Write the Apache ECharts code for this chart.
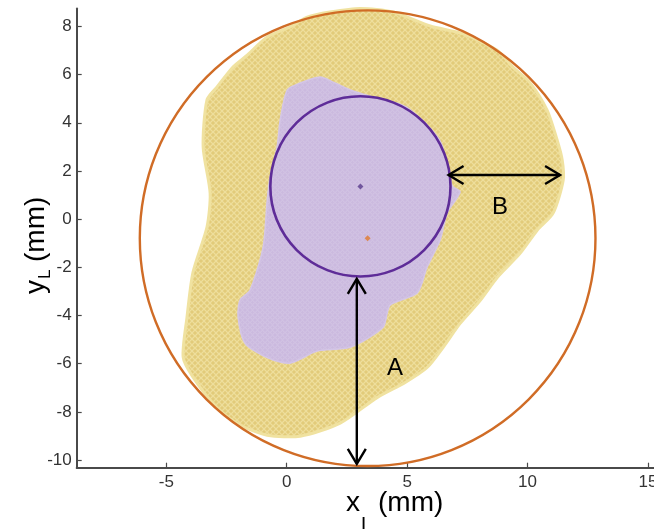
<!DOCTYPE html>
<html>
<head>
<meta charset="utf-8">
<script src="https://cdn.jsdelivr.net/npm/echarts@6/dist/echarts.min.js"></script>
<style>
  html, body { margin: 0; padding: 0; background: #fff; }
  #chart { width: 654px; height: 529px; }
</style>
</head>
<body>
<div id="chart"></div>
<script>
// Axis ticks (mm)
const xTicks = [-5, 0, 5, 10, 15];
const yTicks = [-10, -8, -6, -4, -2, 0, 2, 4, 6, 8];

// Outer cloud boundary (yellow), clockwise from the top
const cloudX = [3.05, 4.42, 5.96, 7.33, 8.72, 9.39, 10.11, 10.81, 11.23, 11.44, 11.48, 11.06, 10.40, 9.69, 8.74, 8.03, 7.20, 6.49, 5.83, 4.92, 3.75, 2.22, 0.56, -0.81, -1.94, -2.89, -3.89, -4.30, -4.14, -3.89, -3.31, -3.18, -3.47, -3.31, -2.89, -2.23, -1.64, -0.81, 0.14, 0.85, 1.80];
const cloudY = [8.75, 8.60, 8.02, 7.69, 7.02, 6.31, 5.65, 4.53, 3.28, 2.45, 1.62, 0.25, -0.46, -1.42, -2.42, -3.38, -4.33, -5.33, -6.16, -6.78, -7.41, -8.47, -9.01, -8.97, -8.55, -7.84, -6.56, -5.73, -4.07, -2.20, -0.33, 1.08, 3.00, 4.95, 5.49, 6.32, 6.81, 7.56, 7.98, 8.39, 8.60];

// Inner core boundary (lavender), clockwise from the top-left
const coreX = [0.02, 0.56, 1.39, 1.93, 2.76, 3.59, 4.96, 6.37, 6.87, 7.20, 6.66, 6.37, 5.83, 5.42, 4.29, 4.00, 2.63, 1.26, 0.14, -0.77, -1.73, -2.02, -1.94, -1.52, -0.98, -0.81, -0.69, -0.40, -0.27];
const coreY = [5.36, 5.65, 5.90, 5.69, 5.32, 5.07, 4.66, 3.24, 1.38, 1.13, 0.25, -0.87, -1.99, -3.07, -3.57, -4.49, -5.32, -5.48, -5.98, -5.77, -5.15, -4.07, -3.36, -2.94, -1.16, 0.79, 1.75, 2.99, 4.12];

// Fitted circles: [centre x, centre y, radius]
const outerCircle = [3.36, -0.79, 9.46];
const innerCircle = [3.06, 1.36, 3.74];

// Double-headed distance arrows: [x1, y1, x2, y2]
const arrowA = [2.91, -2.48, 2.91, -10.16];
const arrowB = [6.72, 1.83, 11.35, 1.83];

// Arrow captions
const captionText = ['A', 'B'];
const captionX = [4.50, 8.86];
const captionY = [-6.20, 0.49];

// Texture tiles that imitate densely packed markers
function makeTile(size, base, ring, r, lw) {
  const c = document.createElement('canvas');
  c.width = size; c.height = size;
  const g = c.getContext('2d');
  g.fillStyle = base;
  g.fillRect(0, 0, size, size);
  g.strokeStyle = ring;
  g.lineWidth = lw;
  g.beginPath();
  g.arc(size / 2, size / 2, r, 0, Math.PI * 2);
  g.stroke();
  return c;
}
const yellowFill = { image: makeTile(6, '#E2CB7A', '#F2E5A8', 2.4, 1), repeat: 'repeat' };
const lavenderFill = { image: makeTile(5, '#CBB9DF', '#D6C9E6', 1.8, 0.8), repeat: 'repeat' };

function regionSeries(xs, ys, fill, edge, edgeWidth) {
  return {
    type: 'custom',
    coordinateSystem: 'cartesian2d',
    clip: false,
    silent: true,
    data: [[xs[0], ys[0]]],
    renderItem: function (params, api) {
      const pts = xs.map(function (x, i) { return api.coord([x, ys[i]]); });
      return {
        type: 'polygon',
        shape: { points: pts, smooth: 0.25 },
        style: { fill: fill, stroke: edge, lineWidth: edgeWidth, lineJoin: 'round' }
      };
    }
  };
}

function circleSeries(circ, color, width) {
  return {
    type: 'custom',
    coordinateSystem: 'cartesian2d',
    clip: false,
    silent: true,
    data: [circ],
    renderItem: function (params, api) {
      const c = api.coord([api.value(0), api.value(1)]);
      const s = api.size([api.value(2), api.value(2)]);
      const rx = s[0], ry = s[1];
      const d = 'M' + (c[0] - rx) + ' ' + c[1] +
        ' A' + rx + ' ' + ry + ' 0 1 0 ' + (c[0] + rx) + ' ' + c[1] +
        ' A' + rx + ' ' + ry + ' 0 1 0 ' + (c[0] - rx) + ' ' + c[1] + ' Z';
      return {
        type: 'path',
        shape: { pathData: d },
        style: { fill: 'none', stroke: color, lineWidth: width }
      };
    }
  };
}

function arrowSeries(arrows) {
  return {
    type: 'custom',
    coordinateSystem: 'cartesian2d',
    clip: false,
    silent: true,
    data: arrows,
    renderItem: function (params, api) {
      const p1 = api.coord([api.value(0), api.value(1)]);
      const p2 = api.coord([api.value(2), api.value(3)]);
      const dx = p2[0] - p1[0], dy = p2[1] - p1[1];
      const len = Math.sqrt(dx * dx + dy * dy);
      const ux = dx / len, uy = dy / len;
      const nx = -uy, ny = ux;
      const back = 15, half = 9;
      const head = function (tip, dir) {
        return [
          [tip[0] + dir * ux * back + nx * half, tip[1] + dir * uy * back + ny * half],
          tip,
          [tip[0] + dir * ux * back - nx * half, tip[1] + dir * uy * back - ny * half]
        ];
      };
      const st = { stroke: '#000', fill: 'none', lineWidth: 2.4 };
      return {
        type: 'group',
        children: [
          { type: 'line', shape: { x1: p1[0], y1: p1[1], x2: p2[0], y2: p2[1] }, style: st },
          { type: 'polyline', shape: { points: head(p1, 1) }, style: st },
          { type: 'polyline', shape: { points: head(p2, -1) }, style: st }
        ]
      };
    }
  };
}

const captionData = captionText.map(function (t, i) { return [captionX[i], captionY[i], t]; });

const axisFont = 'Liberation Sans, Arial, sans-serif';

const option = {
  animation: false,
  backgroundColor: '#fff',
  grid: { left: 76.7, right: 0, top: 8.4, bottom: 61.3, outerBoundsMode: 'none', containLabel: false },
  xAxis: {
    type: 'value',
    min: -8.72,
    max: 15.25,
    splitLine: { show: false },
    axisLine: { show: true, onZero: false, lineStyle: { color: '#4a4a4a', width: 2 } },
    axisTick: { show: true, inside: true, length: 5, customValues: xTicks, lineStyle: { color: '#4a4a4a', width: 1.2 } },
    axisLabel: { customValues: xTicks, fontSize: 17, fontFamily: axisFont, color: '#333', margin: 6 }
  },
  yAxis: {
    type: 'value',
    min: -10.32,
    max: 8.75,
    splitLine: { show: false },
    axisLine: { show: true, onZero: false, lineStyle: { color: '#4a4a4a', width: 2 } },
    axisTick: { show: true, inside: true, length: 5, customValues: yTicks, lineStyle: { color: '#4a4a4a', width: 1.2 } },
    axisLabel: { customValues: yTicks, fontSize: 17, fontFamily: axisFont, color: '#333', margin: 5 }
  },
  graphic: [
    {
      type: 'group', x: 346, y: 503, silent: true,
      children: [
        { type: 'text', x: 0, y: 0, style: { text: 'x', font: '28px ' + axisFont, fill: '#000', verticalAlign: 'middle' } },
        { type: 'text', x: 15, y: 22, style: { text: 'L', font: '20px ' + axisFont, fill: '#000', verticalAlign: 'middle' } },
        { type: 'text', x: 32, y: 0, style: { text: '(mm)', font: '28px ' + axisFont, fill: '#000', verticalAlign: 'middle' } }
      ]
    },
    {
      type: 'group', x: 36, y: 294, rotation: Math.PI / 2, silent: true,
      children: [
        { type: 'text', x: 0, y: 0, style: { text: 'y', font: '28px ' + axisFont, fill: '#000', verticalAlign: 'middle' } },
        { type: 'text', x: 15, y: 9, style: { text: 'L', font: '17px ' + axisFont, fill: '#000', verticalAlign: 'middle' } },
        { type: 'text', x: 32, y: 0, style: { text: '(mm)', font: '28px ' + axisFont, fill: '#000', verticalAlign: 'middle' } }
      ]
    }
  ],
  series: [
    regionSeries(cloudX, cloudY, yellowFill, '#F0E2A0', 3),
    regionSeries(coreX, coreY, lavenderFill, '#D4C6E6', 1.5),
    circleSeries(outerCircle, '#D06C26', 2.4),
    circleSeries(innerCircle, '#5E2C98', 2.6),
    {
      type: 'scatter',
      symbol: 'diamond',
      symbolSize: 6,
      silent: true,
      data: [
        { value: [innerCircle[0], innerCircle[1]], itemStyle: { color: '#5A3C8C' } },
        { value: [outerCircle[0], outerCircle[1]], itemStyle: { color: '#E07A2E' } }
      ]
    },
    arrowSeries([arrowA, arrowB]),
    {
      type: 'custom',
      coordinateSystem: 'cartesian2d',
      clip: false,
      silent: true,
      data: captionData,
      renderItem: function (params, api) {
        const p = api.coord([api.value(0), api.value(1)]);
        return {
          type: 'text',
          x: p[0], y: p[1],
          style: { text: captionData[params.dataIndex][2], font: '24px ' + axisFont, fill: '#000', align: 'center', verticalAlign: 'middle' }
        };
      }
    }
  ]
};

const chart = echarts.init(document.getElementById('chart'), null, { renderer: 'canvas' });
chart.setOption(option);
</script>
</body>
</html>
